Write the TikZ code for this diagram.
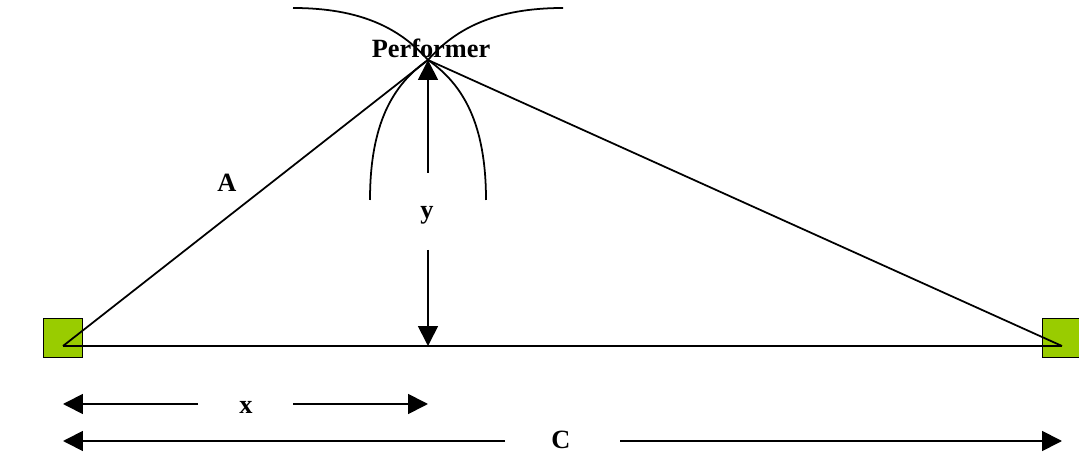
\documentclass[tikz,border=0pt]{standalone}
\usepackage{fontspec}
\setmainfont{Liberation Serif}
\usetikzlibrary{arrows.meta}
\begin{document}
\begin{tikzpicture}[
    x=0.02cm, y=-0.02cm,
    speaker/.style={
        rectangle,
        draw=black,
        fill=lime!60!green!80!black,
        line width=0.6pt,
        minimum size=0.78cm,
        inner sep=0pt
    },
    edge line/.style={
        black,
        line width=1pt
    },
    dim arrow/.style={
        -{Triangle[length=0.4cm,width=0.4cm]},
        black,
        line width=1pt
    },
    lobe/.style={
        black,
        line width=1pt
    },
    label text/.style={
        font=\fontsize{15}{18}\selectfont\bfseries,
        inner sep=0pt
    }
]

\useasboundingbox (0,0) rectangle (1079,452);

%% --- Points ---
\coordinate (P) at (428,60);
\coordinate (F) at (428,346);
\coordinate (L) at (63,346);
\coordinate (R) at (1062,346);

%% --- Haut-parleurs ---
\node[speaker, fill={rgb,255:red,153;green,204;blue,0}] (SL) at (63,338) {};
\node[speaker, fill={rgb,255:red,153;green,204;blue,0}] (SR) at (1062,338) {};

%% --- Triangle ---
\draw[edge line] (L) -- (P);
\draw[edge line] (P) -- (R);
\draw[edge line] (L) -- (R);

%% --- Lobes autour du performer ---
\draw[lobe] (293,8) .. controls (360,8) and (400,28) .. (P);
\draw[lobe] (563,8) .. controls (496,8) and (456,28) .. (P);
\draw[lobe] (370,200) .. controls (370,125) and (392,85) .. (P);
\draw[lobe] (486,200) .. controls (486,125) and (464,85) .. (P);

%% --- Cotes ---
\coordinate (Ya) at (428,173);
\coordinate (Yb) at (428,250);
\draw[dim arrow] (Ya) -- (P);
\draw[dim arrow] (Yb) -- (F);

\coordinate (XL) at (63,404);
\coordinate (XR) at (428,404);
\coordinate (Xa) at (198,404);
\coordinate (Xb) at (293,404);
\draw[dim arrow] (Xa) -- (XL);
\draw[dim arrow] (Xb) -- (XR);

\coordinate (CL) at (63,441);
\coordinate (CR) at (1062,441);
\coordinate (Ca) at (505,441);
\coordinate (Cb) at (620,441);
\draw[dim arrow] (Ca) -- (CL);
\draw[dim arrow] (Cb) -- (CR);

%% --- Étiquettes ---
\node[label text] (perf) at (431,48) {Performer};
\node[label text] (labA) at (227,183) {A};
\node[label text] (labY) at (427,215) {y};
\node[label text] (labX) at (246,407) {x};
\node[label text] (labC) at (561,440) {C};

\end{tikzpicture}
\end{document}
